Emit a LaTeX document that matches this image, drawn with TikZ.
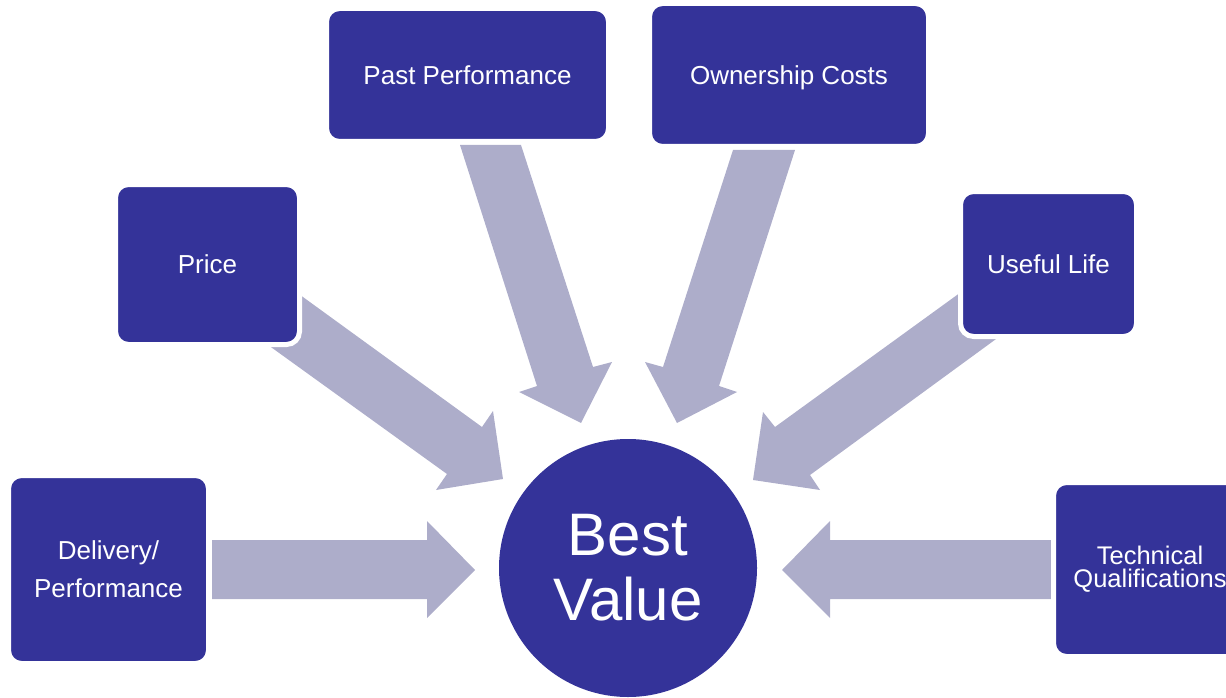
\documentclass[tikz,border=0pt]{standalone}
\usepackage{fontspec}
\setmainfont{Liberation Sans}
\definecolor{boxblue}{RGB}{52,51,153}
\definecolor{arrowlav}{RGB}{173,173,202}
\begin{document}
\begin{tikzpicture}[x=1pt,y=-1pt,
  factor/.style={rectangle, rounded corners=13pt, fill=boxblue, draw=white,
    line width=5pt, text=white, align=center, inner sep=0pt,
    font=\fontsize{26}{38}\selectfont},
  flow/.style={fill=arrowlav}]
\useasboundingbox (0,0) rectangle (1226,698);

% block arrows pointing at the centre
\fill[flow] (212,540) -- (427,540) -- (427,521) -- (475,570) -- (427,618) -- (427,599) -- (212,599) -- cycle;
\fill[flow] (1052,540) -- (830,540) -- (830,521) -- (782,570) -- (830,618) -- (830,599) -- (1052,599) -- cycle;
\fill[flow] (460,145) -- (521,145) -- (593,367) -- (612,362) -- (581,423) -- (519,392) -- (537,386) -- cycle;
\fill[flow] (795,150) -- (733,150) -- (663,367) -- (645,362) -- (677,423) -- (737,392) -- (719,386) -- cycle;
\fill[flow] (263,268) -- (482,427) -- (493,411) -- (503,479) -- (436,490) -- (447,474) -- (232,319) -- cycle;
\fill[flow] (997,266) -- (775,427) -- (763,412) -- (753,480) -- (820,490) -- (810,475) -- (1033,312) -- cycle;

% factor boxes
\node[factor, minimum width=282pt, minimum height=133pt] (past) at (467.5,75) {Past Performance};
\node[factor, minimum width=279pt, minimum height=143pt, text depth=0pt] (own) at (789,75) {Ownership Costs};
\node[factor, minimum width=184pt, minimum height=160pt] (price) at (207.5,264.5) {Price};
\node[factor, minimum width=176pt, minimum height=145pt] (life) at (1048.5,264) {Useful Life};
\node[factor, minimum width=200pt, minimum height=188pt] (deliv) at (108.5,569.5) {Delivery/\\Performance};
\node[factor, minimum width=193pt, minimum height=174pt,
  font={\fontsize{25.5}{23}\selectfont\lineskiplimit=-30pt}] (tech) at (1150,569.5) {Technical\\Qualifications};

% centre
\node[circle, fill=boxblue, minimum size=258pt, inner sep=0pt, text=white, align=center,
  font=\fontsize{60}{65}\selectfont] (best) at (628,568) {Best\\Value};
\end{tikzpicture}
\end{document}
